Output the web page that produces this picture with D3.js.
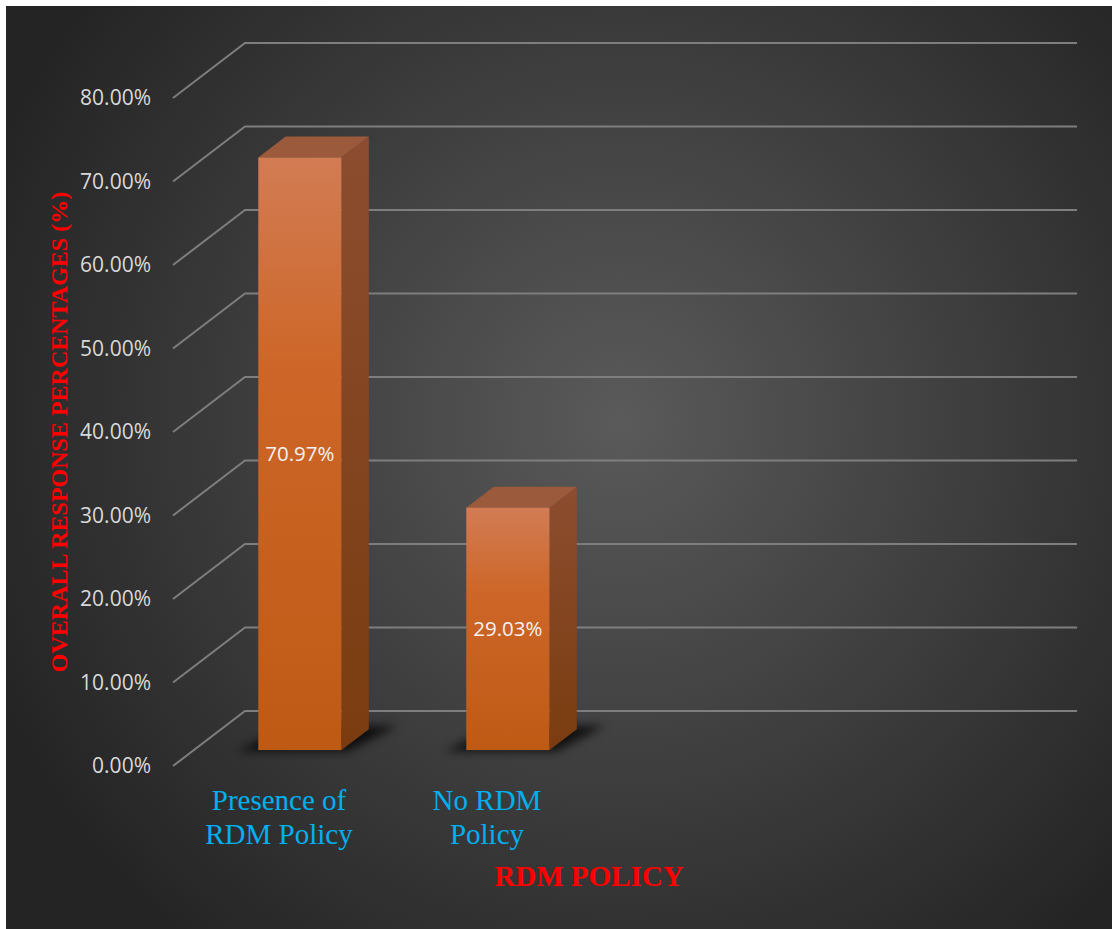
<!DOCTYPE html>
<html><head><meta charset="utf-8">
<script src="https://cdn.jsdelivr.net/npm/d3@7"></script>
<style>html,body{margin:0;padding:0;background:#fff;}svg{display:block;}</style>
</head><body>
<svg id="chart" width="1112" height="929"></svg>
<script>
// ---- data ----
const categories = ["Presence of RDM Policy", "No RDM Policy"];
const categoryLines = [["Presence of", "RDM Policy"], ["No RDM", "Policy"]];
const values = [70.97, 29.03];
const dataLabels = ["70.97%", "29.03%"];
const yTickValues = [0, 10, 20, 30, 40, 50, 60, 70, 80];
const yTickLabels = ["0.00%", "10.00%", "20.00%", "30.00%", "40.00%", "50.00%", "60.00%", "70.00%", "80.00%"];
const blankSlots = 2; // empty category slots in the original sheet
const xTitle = "RDM POLICY";
const yTitle = "OVERALL RESPONSE PERCENTAGES (%)";

// ---- layout ----
const svg = d3.select("#chart");
const W = 1112, H = 929;
const frontLeft = 173, frontRight = 1005;
const depthDX = 72, depthDY = -55;
const barD1 = 0.29, barD2 = 0.67;

const defs = svg.append("defs");
const bg = defs.append("radialGradient").attr("id", "bg").attr("gradientUnits", "userSpaceOnUse")
  .attr("cx", 620).attr("cy", 420).attr("r", 680);
bg.append("stop").attr("offset", 0).attr("stop-color", "#5a5a5a");
bg.append("stop").attr("offset", 1).attr("stop-color", "#242424");

const gFront = defs.append("linearGradient").attr("id", "gFront").attr("x1", 0).attr("y1", 0).attr("x2", 0).attr("y2", 1);
gFront.append("stop").attr("offset", 0).attr("stop-color", "#d27c54");
gFront.append("stop").attr("offset", 0.35).attr("stop-color", "#cd6628");
gFront.append("stop").attr("offset", 1).attr("stop-color", "#bf5a15");
const gSide = defs.append("linearGradient").attr("id", "gSide").attr("x1", 0).attr("y1", 0).attr("x2", 0).attr("y2", 1);
gSide.append("stop").attr("offset", 0).attr("stop-color", "#8c4d30");
gSide.append("stop").attr("offset", 1).attr("stop-color", "#7a3c0f");

const blur = defs.append("filter").attr("id", "blur").attr("x", "-50%").attr("y", "-50%").attr("width", "200%").attr("height", "200%");
blur.append("feGaussianBlur").attr("stdDeviation", 5);

svg.append("rect").attr("x", 6).attr("y", 6).attr("width", W - 6).attr("height", H - 6).attr("fill", "url(#bg)");

const y = d3.scaleLinear().domain([0, 80]).range([766, 98]);
const slots = d3.range(categories.length + blankSlots);
const x = d3.scaleBand().domain(slots).range([frontLeft + 2, frontRight + 2]).paddingInner(0.6).paddingOuter(0.3);

const proj = (px, py, d) => [px + d * depthDX, py + d * depthDY];
const line = d3.line();

// gridlines
svg.append("g").selectAll("path").data(yTickValues).join("path")
  .attr("d", v => line([proj(frontLeft, y(v), 0), proj(frontLeft, y(v), 1), proj(frontRight, y(v), 1)]))
  .attr("fill", "none").attr("stroke", "#7e7e7e").attr("stroke-width", 2);

// tick labels
svg.append("g").selectAll("text").data(yTickValues).join("text")
  .attr("x", 151).attr("y", v => y(v)).attr("dy", "0.35em")
  .attr("text-anchor", "end")
  .style("font-family", "'Open Sans', sans-serif").style("font-size", "21px").attr("fill", "#d9d9d9")
  .text((v, i) => yTickLabels[i]);

// bars
const bars = categories.map((c, i) => ({ c, v: values[i], i, label: dataLabels[i] }));
const gb = svg.append("g");
bars.forEach(b => {
  const xl = x(b.i), xr = x(b.i) + x.bandwidth();
  const y0 = y(0), yt = y(b.v);
  // shadow
  gb.append("path")
    .attr("d", line([proj(xl - 20, y0, barD1 - 0.02), proj(xr + 8, y0, barD1 - 0.02), proj(xr + 24, y0, barD2 + 0.06), proj(xl, y0, barD2 + 0.06)]) + "Z")
    .attr("fill", "#000").attr("opacity", 0.75).attr("filter", "url(#blur)");
  // side
  gb.append("path")
    .attr("d", line([proj(xr, yt, barD1), proj(xr, yt, barD2), proj(xr, y0, barD2), proj(xr, y0, barD1)]) + "Z")
    .attr("fill", "url(#gSide)");
  // top
  gb.append("path")
    .attr("d", line([proj(xl, yt, barD1), proj(xr, yt, barD1), proj(xr, yt, barD2), proj(xl, yt, barD2)]) + "Z")
    .attr("fill", "#9b5a3b");
  // front
  const [fx, fy] = proj(xl, yt, barD1);
  gb.append("rect").attr("x", fx).attr("y", fy).attr("width", x.bandwidth()).attr("height", y0 - yt)
    .attr("fill", "url(#gFront)");
  // data label
  gb.append("text").attr("x", fx + x.bandwidth() / 2).attr("y", fy + (y0 - yt) / 2).attr("dy", "0.35em")
    .attr("text-anchor", "middle")
    .style("font-family", "'Open Sans', sans-serif").style("font-size", "20.5px").attr("fill", "#f2f2f2")
    .text(b.label);
});

// category labels
const gl = svg.append("g");
bars.forEach(b => {
  const cx = x(b.i) + x.bandwidth() / 2;
  const t = gl.append("text").attr("x", cx).attr("y", 810)
    .attr("text-anchor", "middle")
    .style("font-family", "'Liberation Serif', 'Times New Roman', serif").style("font-size", "29px").attr("fill", "#00b0f0");
  categoryLines[b.i].forEach((ln, k) => t.append("tspan").attr("x", cx).attr("dy", k ? 34 : 0).text(ln));
});

// axis titles
svg.append("text").attr("x", (frontLeft + frontRight) / 2).attr("y", 886).attr("text-anchor", "middle")
  .style("font-family", "'Liberation Serif', 'Times New Roman', serif").style("font-size", "29px").style("font-weight", "bold")
  .attr("fill", "#ff0000").text(xTitle);
svg.append("text").attr("transform", `translate(67,${(y(0) + y(80)) / 2}) rotate(-90)`).attr("text-anchor", "middle")
  .style("font-family", "'Liberation Serif', 'Times New Roman', serif").style("font-size", "24px").style("font-weight", "bold")
  .attr("fill", "#ff0000").text(yTitle);
</script>
</body></html>
